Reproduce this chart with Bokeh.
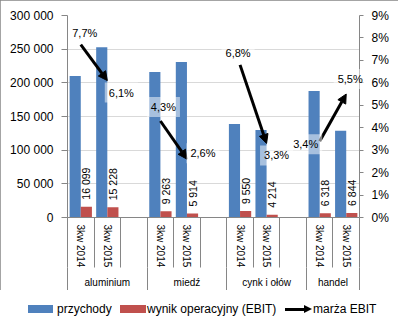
import math
from bokeh.plotting import figure
from bokeh.layouts import column
from bokeh.models import (ColumnDataSource, Range1d, LinearAxis, FixedTicker, LabelSet,
                          Arrow, NormalHead, Grid, Div)
from bokeh.core.properties import value
from bokeh.embed import file_html
from bokeh.resources import INLINE

# ---------------- data ----------------
groups = ["aluminium", "miedź", "cynk i ołów", "handel"]
periods = ["3kw 2014", "3kw 2015"]
przychody = [210000, 253000, 216000, 231000, 139000, 130000, 188000, 129000]
ebit = [16099, 15228, 9263, 5914, 9550, 4214, 6318, 6844]
marza = [7.7, 6.1, 4.3, 2.6, 6.8, 3.3, 3.4, 5.5]
left_ticks = [0, 50000, 100000, 150000, 200000, 250000, 300000]
right_ticks = [0, 1, 2, 3, 4, 5, 6, 7, 8, 9]
series_names = ["przychody", "wynik operacyjny (EBIT)", "marża EBIT"]

# ---------------- style ----------------
marza_dx = [4, 14, 3, 16, -2, 10, -14, 4]
marza_dy = [12, -12, 14, 6, 12, -12, -3, 15]
FONT = "Liberation Sans"
BLUE = "#4F81BD"
RED = "#C0504D"
AXIS = "#868686"
GRID = "#D9D9D9"
W = 398
H_MAIN, H_LEG = 290, 40
LEFT, RIGHT, TOP, BOTTOM = 67, 39, 15, 72

n_per = len(periods)
slot_w = n_per + 1
n_slots = len(groups) * slot_w - 1

xc = []
for g in range(len(groups)):
    for k in range(n_per):
        xc.append(g * slot_w + k + 0.5)
g_lo = [g * slot_w for g in range(len(groups))]
g_hi = [min((g + 1) * slot_w, n_slots) for g in range(len(groups))]
g_c = [(a + b) / 2 for a, b in zip(g_lo, g_hi)]

bw = 0.42
fmt = lambda v: f"{v:,}".replace(",", " ")
src = ColumnDataSource(dict(
    xb=[x - bw / 2 for x in xc], xr=[x + bw / 2 for x in xc],
    przychody=przychody, ebit=ebit, ebit_txt=[fmt(v) for v in ebit],
))
msrc = ColumnDataSource(dict(
    x=xc, y=marza, txt=[f"{v:.1f}".replace(".", ",") + "%" for v in marza],
    dx=marza_dx, dy=[-d for d in marza_dy],
))
asrc = ColumnDataSource(dict(
    x0=xc[0::2], y0=marza[0::2], x1=xc[1::2], y1=marza[1::2],
))

p = figure(width=W, height=H_MAIN, x_range=Range1d(0, n_slots), y_range=Range1d(0, 300000),
           x_axis_type=None, y_axis_type=None, toolbar_location=None, output_backend="svg",
           min_border_left=LEFT, min_border_right=RIGHT, min_border_top=TOP,
           min_border_bottom=BOTTOM)
p.extra_y_ranges = {"pct": Range1d(0, 9)}
p.outline_line_color = None
p.background_fill_color = "white"
p.border_fill_color = "white"

p.add_layout(Grid(dimension=1, ticker=FixedTicker(ticks=left_ticks), grid_line_color=GRID))

laxis = LinearAxis(ticker=FixedTicker(ticks=left_ticks),
                   major_label_overrides={v: fmt(v) for v in left_ticks},
                   major_tick_out=6, major_tick_in=0, minor_tick_out=0, minor_tick_in=0,
                   major_label_standoff=8, axis_line_color=AXIS, major_tick_line_color=AXIS,
                   major_label_text_font=FONT, major_label_text_font_size="12px",
                   major_label_text_color="black")
p.add_layout(laxis, "left")

raxis = LinearAxis(y_range_name="pct", ticker=FixedTicker(ticks=right_ticks),
                   major_label_overrides={v: f"{v}%" for v in right_ticks},
                   major_tick_out=4, major_tick_in=0, minor_tick_out=0, minor_tick_in=0,
                   major_label_standoff=8, axis_line_color=AXIS, major_tick_line_color=AXIS,
                   major_label_text_font=FONT, major_label_text_font_size="12px",
                   major_label_text_color="black")
p.add_layout(raxis, "right")

xaxis1 = LinearAxis(ticker=FixedTicker(ticks=xc, minor_ticks=list(range(n_slots + 1))),
                    major_label_overrides={x: periods[i % n_per] for i, x in enumerate(xc)},
                    major_label_orientation="vertical",
                    major_tick_out=0, major_tick_in=0, major_tick_line_color=None,
                    minor_tick_out=50, minor_tick_in=0, minor_tick_line_color=AXIS,
                    axis_line_color=AXIS, major_label_standoff=-43,
                    major_label_text_font=FONT, major_label_text_font_size="10px",
                    major_label_text_color="black")
p.add_layout(xaxis1, "below")

xaxis2 = LinearAxis(ticker=FixedTicker(ticks=g_c, minor_ticks=g_lo + [n_slots]),
                    major_label_overrides={c: groups[i] for i, c in enumerate(g_c)},
                    major_tick_out=0, major_tick_in=0, major_tick_line_color=None,
                    minor_tick_out=22, minor_tick_in=3, minor_tick_line_color=AXIS,
                    axis_line_color=None, major_label_standoff=-16,
                    major_label_text_font=FONT, major_label_text_font_size="10px",
                    major_label_text_color="black")
p.add_layout(xaxis2, "below")

p.vbar(x="xb", top="przychody", bottom=0, width=bw, source=src,
       fill_color=BLUE, line_color=None)
p.vbar(x="xr", top="ebit", bottom=0, width=bw, source=src,
       fill_color=RED, line_color=None)

p.add_layout(LabelSet(x="xr", y="ebit", text="ebit_txt", source=src, angle=math.pi / 2,
                      text_align="left", text_baseline="middle", y_offset=7,
                      text_font=value(FONT), text_font_size="10.5px", text_color="black"))

p.add_layout(Arrow(end=NormalHead(size=9, fill_color="black", line_color="black", line_width=1),
                   x_start="x0", y_start="y0", x_end="x1", y_end="y1", source=asrc,
                   y_range_name="pct", line_width=3, line_color="black"))

p.text(x="x", y="y", y_range_name="pct", text="txt", source=msrc,
       x_offset="dx", y_offset="dy", text_align="center", text_baseline="middle",
       background_fill_color="white", background_fill_alpha=0.5, padding=4,
       text_font=value(FONT), text_font_size="11px", text_color="black", level="overlay")

# ---------------- legend strip (HTML under the chart) ----------------
row_y = 19
abs_ = "position:absolute;"
parts = [
    f'<span style="{abs_}left:28px;top:{row_y - 4}px;width:25px;height:8px;background:{BLUE}"></span>',
    f'<span style="{abs_}left:120px;top:{row_y - 4}px;width:26px;height:8px;background:{RED}"></span>',
    f'<span style="{abs_}left:285px;top:{row_y - 1.5}px;width:20px;height:3px;background:#000"></span>',
    f'<span style="{abs_}left:304px;top:{row_y - 4}px;width:0;height:0;'
    f'border-top:4px solid transparent;border-bottom:4px solid transparent;'
    f'border-left:8px solid #000"></span>',
]
for name, tx in zip(series_names, [57, 147, 313]):
    parts.append(f'<span style="{abs_}left:{tx}px;top:{row_y - 8}px;line-height:16px;'
                 f'white-space:nowrap">{name}</span>')
html = (f'<div style="position:relative;width:{W}px;height:{H_LEG}px;'
        f'font-family:\'{FONT}\';font-size:12px;color:#000;background:#fff">'
        + "".join(parts) + "</div>")
leg = Div(text=html, width=W, height=H_LEG, margin=(0, 0, 0, 0))

layout = column(p, leg, spacing=0,
                styles={"outline": "1px solid #868686", "outline-offset": "-1px"})

open("out.html", "w").write(file_html(layout, INLINE))
